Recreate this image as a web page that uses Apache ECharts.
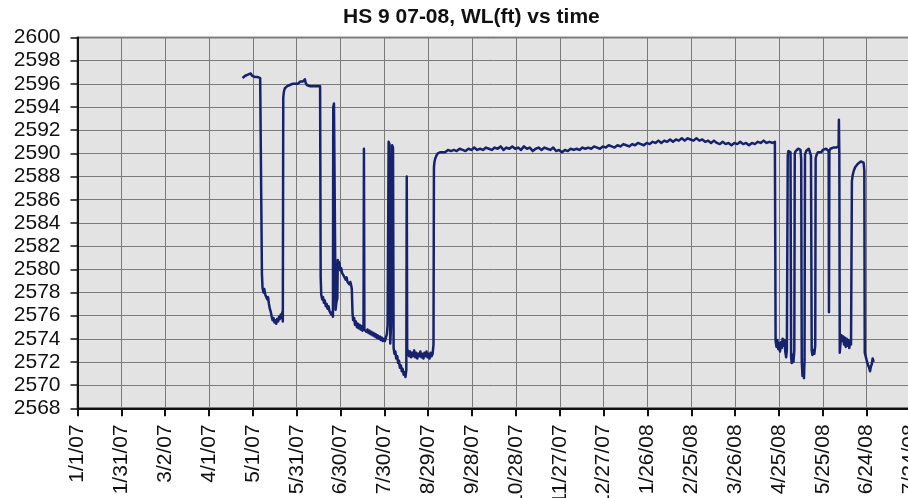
<!DOCTYPE html>
<html>
<head>
<meta charset="utf-8">
<script src="https://cdn.jsdelivr.net/npm/echarts@6/dist/echarts.min.js"></script>
<style>
html,body{margin:0;padding:0;background:#ffffff;}
#chart{width:908px;height:498px;}
</style>
</head>
<body>
<div id="chart"></div>
<script>
// Day offsets are counted from 1/1/07 (day 0).
const chartTitle = 'HS 9 07-08, WL(ft) vs time';
const startDateUTC = Date.UTC(2007, 0, 1);
const xTickDays = [0, 30, 60, 90, 120, 150, 180, 210, 240, 270, 300, 330, 360, 390, 420, 450, 480, 510, 540, 570];
const yTicks = [2568, 2570, 2572, 2574, 2576, 2578, 2580, 2582, 2584, 2586, 2588, 2590, 2592, 2594, 2596, 2598, 2600];

const readingsSpring07 = [
  [112.9,2596.5],[113.8,2596.6],[114.8,2596.7],[115.7,2596.6],[116.6,2596.8],[117.5,2596.7],[118.5,2596.9],[119.4,2596.7],
  [120.3,2596.8],[121.3,2596.6],[122.2,2596.7],[123.1,2596.6],[124.1,2596.7],[125.0,2596.5],[125.9,2596.6],
  [126.2,2579.6],[126.6,2578.4],[127.2,2578.0],[127.8,2578.3],[128.5,2577.8],[129.1,2577.9],[129.8,2577.4],[130.4,2577.6],
  [131.0,2577.0],[131.6,2576.6],[132.3,2576.3],[132.9,2575.9],[133.5,2575.6],[134.1,2575.8],[134.8,2575.4],[135.4,2575.6],
  [136.0,2575.3],[136.6,2575.7],[137.3,2575.5],[137.9,2575.9],[138.5,2575.7],[139.1,2576.1],[139.7,2575.8],[140.2,2576.3],
  [140.5,2575.5],
  [140.8,2594.8],[141.2,2595.3],[141.8,2595.6],[142.6,2595.7],[143.5,2595.8],[144.4,2595.7],[145.3,2595.9],[146.2,2595.8],
  [147.1,2596.0],[148.0,2595.9],[148.9,2596.0],[149.8,2596.1],[150.7,2596.0],[151.6,2596.1],[152.5,2596.2],[153.4,2596.1],
  [154.3,2596.2],[155.2,2596.3],[155.6,2596.4],[156.1,2596.1],[157.0,2595.9],[157.9,2595.9],[158.8,2595.8],[159.7,2595.9],
  [160.6,2595.8],[161.5,2595.7],[162.4,2595.8],[163.3,2595.7],[164.2,2595.8],[165.1,2595.7],[166.0,2595.8]
];

const readingsSummer07 = [
  [166.4,2579.3],[166.8,2577.8],[167.4,2577.4],[168.0,2577.6],[168.6,2577.1],[169.2,2577.3],[169.9,2576.8],[170.5,2577.0],
  [171.1,2576.6],[171.8,2576.8],[172.4,2576.4],[173.0,2576.5],[173.6,2576.1],[174.3,2576.3],[174.8,2575.9],
  [175.0,2594.0],[175.5,2594.3],[176.3,2594.2],[176.6,2576.5],[177.2,2577.2],[177.8,2577.5],
  [178.1,2580.8],[178.6,2580.4],[179.2,2580.6],[179.8,2579.9],[180.4,2580.1],[181.0,2579.7],[181.6,2579.8],[182.3,2579.4],
  [182.9,2579.5],[183.5,2579.1],[184.1,2579.3],[184.8,2578.9],[185.4,2579.0],[186.0,2578.7],[186.7,2578.9],[187.3,2578.6],
  [187.7,2578.3],[188.2,2576.2],[188.6,2575.6],[189.3,2575.8],[189.9,2575.2],[190.5,2575.5],[191.2,2575.0],[191.8,2575.3],
  [192.4,2574.9],[193.1,2575.2],[193.7,2574.8],[194.3,2575.1],[195.0,2574.7],[195.7,2574.9],
  [196.0,2590.4],[196.3,2574.8],
  [197.0,2574.9],[197.7,2574.6],[198.4,2574.8],[199.1,2574.5],[199.8,2574.7],[200.5,2574.4],[201.2,2574.6],[201.9,2574.3],
  [202.6,2574.5],[203.3,2574.2],[204.0,2574.4],[204.7,2574.1],[205.4,2574.3],[206.1,2574.0],[206.8,2574.2],[207.5,2573.9],
  [208.2,2574.1],[208.9,2573.8],[209.6,2574.0],[210.3,2573.8],[211.0,2574.1],[211.7,2574.4],[212.2,2575.2],
  [212.9,2591.0],[213.5,2590.8],[214.0,2573.6],[214.5,2575.0],[215.3,2590.7],[215.9,2590.5],[216.3,2573.2],
  [216.9,2572.7],[217.5,2572.9],[218.1,2572.3],[218.8,2572.5],[219.4,2571.9],[220.0,2572.1],[220.6,2571.5],[221.3,2571.7],
  [221.9,2571.2],[222.5,2571.4],[223.2,2570.9],[223.8,2571.1],[224.4,2570.7],[225.0,2571.3],
  [225.3,2588.0],[225.6,2572.6],
  [226.2,2573.0],[226.9,2572.5],[227.6,2572.9],[228.3,2572.4],[229.0,2572.8],[229.7,2572.5],[230.4,2573.0],[231.1,2572.4],
  [231.8,2572.8],[232.5,2572.3],[233.2,2572.7],[233.9,2572.5],[234.6,2572.9],[235.3,2572.4],[236.0,2572.7],[236.7,2572.3],
  [237.4,2572.8],[238.1,2572.5],[238.8,2572.9],[239.5,2572.4],[240.2,2572.7],[240.9,2572.3],[241.6,2572.8],[242.3,2572.5],
  [243.0,2572.7],[243.6,2573.5],
  [243.9,2588.8],[244.3,2589.3],[244.9,2589.6],[245.6,2589.8],[246.5,2590.0],[247.5,2589.9],[248.4,2590.1]
];

const readingsWinter = [
  [249.5,2590.2],[251.5,2590.1],[253.5,2590.3],[255.5,2590.2],[257.5,2590.3],[259.5,2590.2],[261.5,2590.4],[263.5,2590.3],
  [265.5,2590.2],[267.5,2590.4],[269.5,2590.3],[271.5,2590.5],[273.5,2590.3],[275.5,2590.4],[277.5,2590.3],[279.5,2590.5],
  [281.5,2590.4],[283.5,2590.3],[285.5,2590.5],[287.5,2590.4],[289.5,2590.6],[291.5,2590.3],[293.5,2590.5],[295.5,2590.4],
  [297.5,2590.6],[299.5,2590.4],[301.5,2590.5],[303.5,2590.3],[305.5,2590.6],[307.5,2590.4],[309.5,2590.5],[311.5,2590.2],
  [313.5,2590.4],[315.5,2590.5],[317.5,2590.3],[319.5,2590.5],[321.5,2590.4],[323.5,2590.3],[325.5,2590.5],[327.5,2590.2],
  [329.5,2590.3],[331.5,2590.1],[333.5,2590.3],[335.5,2590.2],[337.5,2590.4],[339.5,2590.3],[341.5,2590.4],[343.5,2590.3],
  [345.5,2590.5],[347.5,2590.4],[349.5,2590.5],[351.5,2590.4],[353.5,2590.6],[355.5,2590.5],[357.5,2590.4],[359.5,2590.6],
  [361.5,2590.5],[363.5,2590.7],[365.5,2590.6],[367.5,2590.5],[369.5,2590.7],[371.5,2590.6],[373.5,2590.8],[375.5,2590.7],
  [377.5,2590.6],[379.5,2590.8],[381.5,2590.7],[383.5,2590.9],[385.5,2590.8],[387.5,2590.7],[389.5,2590.9],[391.5,2590.8],
  [393.5,2591.0],[395.5,2590.9],[397.5,2591.1],[399.5,2590.9],[401.5,2591.1],[403.5,2591.0],[405.5,2591.2],[407.5,2591.0],
  [409.5,2591.2],[411.5,2591.1],[413.5,2591.3],[415.5,2591.1],[417.5,2591.3],[419.5,2591.2],[421.5,2591.1],[423.5,2591.3],
  [425.5,2591.1],[427.5,2591.2],[429.5,2591.0],[431.5,2591.1],[433.5,2590.9],[435.5,2591.1],[437.5,2590.9],[439.5,2590.8],
  [441.5,2591.0],[443.5,2590.8],[445.5,2590.9],[447.5,2590.7],[449.5,2590.9],[451.5,2590.8],[453.5,2591.0],[455.5,2590.8],
  [457.5,2590.9],[459.5,2590.7],[461.5,2590.9],[463.5,2590.8],[465.5,2591.0],[467.5,2590.9],[469.5,2591.1],[471.5,2590.9],
  [473.5,2591.0],[475.5,2590.9],[477.2,2591.0]
];

const readingsSpring08 = [
  [477.7,2573.8],[478.3,2573.3],[478.9,2573.9],[479.5,2573.1],[480.1,2573.6],[480.7,2572.9],[481.3,2573.7],[481.9,2573.2],
  [482.5,2574.0],[483.1,2573.4],[483.7,2573.9],[484.3,2572.9],[484.9,2572.4],[485.4,2573.0],
  [486.0,2589.8],[486.5,2590.2],[487.2,2590.3],[487.9,2590.1],[488.3,2572.5],[488.7,2571.9],[489.3,2572.6],[489.9,2572.0],
  [490.5,2573.0],
  [490.8,2590.0],[491.5,2590.2],[492.3,2590.3],[493.1,2590.4],[493.9,2590.3],[494.7,2590.3],[495.2,2589.5],[495.6,2572.0],
  [496.1,2570.8],[496.6,2571.5],[497.1,2570.6],[497.5,2572.2],
  [497.8,2589.9],[498.6,2590.2],[499.5,2590.3],[500.4,2590.4],[501.2,2590.3],[501.9,2589.8],[502.4,2573.0],[502.9,2572.6],
  [503.5,2573.0],[504.2,2572.7],[504.8,2573.4],
  [505.1,2589.6],[505.8,2589.9],[506.7,2590.1],[507.8,2590.2],[508.9,2590.1],[510.0,2590.3],[511.1,2590.2],[512.2,2590.4],
  [513.3,2590.3],[514.0,2590.2],[514.2,2576.3],[514.5,2590.2],[515.2,2590.4],[516.2,2590.3],[517.2,2590.5],[518.2,2590.4],
  [519.2,2590.5],[520.2,2590.4],[520.8,2590.6],[521.0,2592.9],[521.3,2589.8],[521.6,2572.8],
  [522.1,2573.6],[522.7,2574.3],[523.3,2573.8],[523.9,2574.2],[524.5,2573.5],[525.1,2574.1],[525.7,2573.3],[526.3,2574.0],
  [526.9,2573.4],[527.5,2573.9],[528.1,2573.2],[528.7,2573.8],[529.3,2573.5],
  [529.9,2587.6],[530.4,2588.1],[531.2,2588.5],[532.1,2588.8],[533.0,2588.9],[534.0,2589.1],[535.0,2589.2],[536.0,2589.3],
  [537.0,2589.3],[537.9,2589.2],[538.4,2588.5],[538.7,2572.8],[539.3,2572.5],[539.9,2572.2],[540.5,2571.9],[541.1,2572.0],
  [541.7,2571.5],[542.3,2571.2],[542.9,2571.6],[543.5,2571.8],[544.1,2572.3],[544.8,2572.0]
];

const waterLevel = [].concat(readingsSpring07, readingsSummer07, readingsWinter, readingsSpring08);

function dayLabel(d) {
  const dt = new Date(startDateUTC + Math.round(d) * 86400000);
  const yy = String(dt.getUTCFullYear() % 100).padStart(2, '0');
  return (dt.getUTCMonth() + 1) + '/' + dt.getUTCDate() + '/' + yy;
}

const chart = echarts.init(document.getElementById('chart'), null, { renderer: 'canvas' });
const fontFam = '"Liberation Sans", Arial, Helvetica, sans-serif';
chart.setOption({
  animation: false,
  backgroundColor: '#ffffff',
  title: {
    text: chartTitle,
    left: 343,
    top: 7,
    padding: 0,
    textStyle: { fontFamily: fontFam, fontSize: 21, fontWeight: 'bold', color: '#111111' }
  },
  grid: {
    left: 77.5,
    top: 37.5,
    width: 833,
    height: 370.8,
    containLabel: false,
    outerBoundsMode: 'none',
    show: true,
    backgroundColor: '#e3e3e3',
    borderColor: '#1a1a1a',
    borderWidth: 1.5
  },
  xAxis: {
    type: 'value',
    min: xTickDays[0],
    max: xTickDays[xTickDays.length - 1],
    interval: 30,
    axisLine: { show: true, lineStyle: { color: '#111111', width: 2 } },
    axisTick: { show: true, length: 8, lineStyle: { color: '#111111', width: 2 } },
    splitLine: { show: true, lineStyle: { color: '#7a7a7a', width: 1 } },
    axisLabel: {
      rotate: 90,
      margin: 16,
      showMinLabel: true,
      showMaxLabel: true,
      hideOverlap: false,
      fontFamily: fontFam,
      fontSize: 21,
      color: '#111111',
      formatter: function (v) { return xTickDays.indexOf(v) >= 0 ? dayLabel(v) : ''; }
    }
  },
  yAxis: {
    type: 'value',
    min: yTicks[0],
    max: yTicks[yTicks.length - 1],
    interval: 2,
    axisLine: { show: true, lineStyle: { color: '#111111', width: 2 } },
    axisTick: { show: true, length: 7, lineStyle: { color: '#111111', width: 1.5 } },
    splitLine: { show: true, lineStyle: { color: '#7a7a7a', width: 1 } },
    axisLabel: {
      margin: 17,
      fontFamily: fontFam,
      fontSize: 21,
      color: '#111111',
      showMinLabel: true,
      showMaxLabel: true,
      formatter: function (v) { return String(v); }
    }
  },
  series: [{
    type: 'line',
    data: waterLevel,
    showSymbol: false,
    symbol: 'none',
    sampling: null,
    lineStyle: { color: '#16226c', width: 2.5, join: 'round' },
    clip: true
  }]
});
</script>
</body>
</html>
